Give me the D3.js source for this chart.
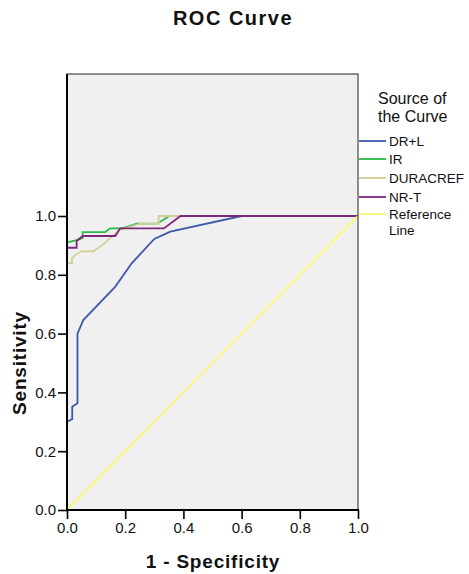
<!DOCTYPE html>
<html>
<head>
<meta charset="utf-8">
<script src="https://cdn.jsdelivr.net/npm/d3@7/dist/d3.min.js"></script>
<style>
  html, body { margin: 0; padding: 0; background: #fff; }
  svg { display: block; font-family: "Liberation Sans", Arial, Helvetica, sans-serif; }
</style>
</head>
<body>
<svg id="chart" width="469" height="574"></svg>
<script>
// ---- data ----
const seriesNames = ["DR+L", "IR", "DURACREF", "NR-T", "Reference Line"];
const drl = [[0,0],[0,0.30],[0.018,0.309],[0.018,0.351],[0.036,0.363],[0.036,0.60],[0.056,0.646],[0.166,0.76],[0.223,0.84],[0.30,0.922],[0.355,0.947],[0.60,1.0],[1,1]];
const ir = [[0,0],[0,0.91],[0.033,0.918],[0.054,0.925],[0.054,0.945],[0.131,0.945],[0.148,0.958],[0.19,0.958],[0.24,0.974],[0.31,0.974],[0.352,1.0],[1,1]];
const duracref = [[0,0],[0,0.84],[0.017,0.84],[0.017,0.856],[0.028,0.867],[0.05,0.88],[0.09,0.88],[0.12,0.90],[0.16,0.935],[0.18,0.952],[0.22,0.965],[0.25,0.973],[0.315,0.973],[0.315,1.0],[1,1]];
const nrt = [[0,0],[0,0.892],[0.033,0.892],[0.033,0.915],[0.054,0.932],[0.166,0.932],[0.183,0.958],[0.333,0.958],[0.39,1.0],[1,1]];
const refLine = [[0,0],[1,1]];
const xTicks = [0, 0.2, 0.4, 0.6, 0.8, 1.0];
const yTicks = [0, 0.2, 0.4, 0.6, 0.8, 1.0];
const colors = ["#3E58AC", "#2EB848", "#D3CE97", "#7C287D", "#FBF873"];

// ---- layout ----
const svg = d3.select("#chart");
const left = 67, right = 358, bottom = 510, y1px = 216, frameTop = 74;
const x = d3.scaleLinear().domain([0, 1]).range([left, right]);
const y = d3.scaleLinear().domain([0, 1]).range([bottom, y1px]);

// plot background
svg.append("rect").attr("x", left).attr("y", frameTop)
  .attr("width", right - left).attr("height", bottom - frameTop)
  .attr("fill", "#F0F0F0");

// curves
const line = d3.line().x(d => x(d[0])).y(d => y(d[1]));
const allSeries = [drl, ir, duracref, nrt, refLine];
allSeries.forEach((s, i) => {
  svg.append("path").datum(s).attr("d", line)
    .attr("fill", "none").attr("stroke", colors[i])
    .attr("stroke-width", 1.8).attr("stroke-linejoin", "miter");
});

// frame
svg.append("rect").attr("x", left).attr("y", frameTop)
  .attr("width", right - left).attr("height", bottom - frameTop)
  .attr("fill", "none").attr("stroke", "#222").attr("stroke-width", 1);
svg.append("line").attr("x1", left).attr("x2", left).attr("y1", frameTop).attr("y2", bottom + 1)
  .attr("stroke", "#000").attr("stroke-width", 2);
svg.append("line").attr("x1", left - 1).attr("x2", right + 1).attr("y1", bottom).attr("y2", bottom)
  .attr("stroke", "#000").attr("stroke-width", 2);

// axes
const fmt = d3.format(".1f");
const gy = svg.append("g").attr("transform", `translate(${left},0)`)
  .call(d3.axisLeft(y).tickValues(yTicks).tickFormat(fmt).tickSize(9).tickPadding(2));
const gx = svg.append("g").attr("transform", `translate(0,${bottom})`)
  .call(d3.axisBottom(x).tickValues(xTicks).tickFormat(fmt).tickSize(9).tickPadding(3));
[gx, gy].forEach(g => {
  g.select(".domain").remove();
  g.selectAll(".tick line").attr("stroke", "#000").attr("stroke-width", 1.6);
  g.selectAll(".tick text").attr("fill", "#111").style("font-size", "15px")
    .style("font-family", "'Liberation Sans', Arial, sans-serif");
});

// title & axis labels
svg.append("text").attr("x", 233).attr("y", 25).attr("text-anchor", "middle")
  .style("font-size", "20px").style("font-weight", "bold").style("letter-spacing", "1.5px")
  .attr("fill", "#111").text("ROC Curve");
svg.append("text").attr("x", 213).attr("y", 568).attr("text-anchor", "middle")
  .style("font-size", "19px").style("font-weight", "bold").style("letter-spacing", "0.8px")
  .attr("fill", "#111").text("1 - Specificity");
svg.append("text").attr("transform", `translate(26,${(y(0) + y(1)) / 2}) rotate(-90)`)
  .attr("text-anchor", "middle")
  .style("font-size", "19px").style("font-weight", "bold").style("letter-spacing", "0.8px")
  .attr("fill", "#111").text("Sensitivity");

// legend
const lg = svg.append("g");
lg.append("text").attr("x", 378).attr("y", 104).style("font-size", "16px").attr("fill", "#111").text("Source of");
lg.append("text").attr("x", 378).attr("y", 122).style("font-size", "16px").attr("fill", "#111").text("the Curve");
const legY = [141, 159, 178, 197, 214];
seriesNames.forEach((n, i) => {
  lg.append("line").attr("x1", right + 1).attr("x2", 386).attr("y1", legY[i]).attr("y2", legY[i])
    .attr("stroke", colors[i]).attr("stroke-width", 1.8);
  if (n === "Reference Line") {
    lg.append("text").attr("x", 389).attr("y", legY[i] + 4.5).style("font-size", "13.5px").attr("fill", "#111").text("Reference");
    lg.append("text").attr("x", 389).attr("y", legY[i] + 20.5).style("font-size", "13.5px").attr("fill", "#111").text("Line");
  } else {
    lg.append("text").attr("x", 389).attr("y", legY[i] + 5).style("font-size", "13.5px").attr("fill", "#111").text(n);
  }
});
</script>
</body>
</html>
